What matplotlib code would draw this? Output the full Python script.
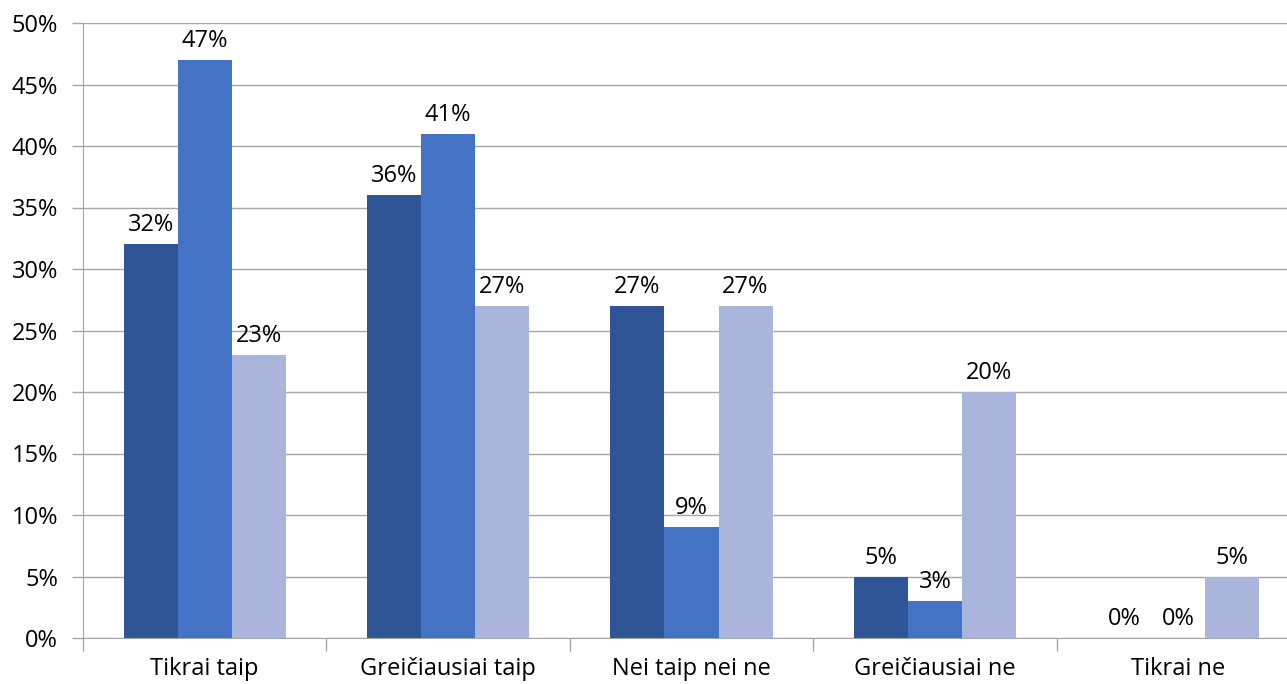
import numpy as np
import matplotlib.pyplot as plt
from matplotlib.ticker import FixedLocator, NullFormatter

categories = ["Tikrai taip", "Greičiausiai taip", "Nei taip nei ne", "Greičiausiai ne", "Tikrai ne"]
series_a = [32, 36, 27, 5, 0]
series_b = [47, 41, 9, 3, 0]
series_c = [23, 27, 27, 20, 5]
colors = ["#2F5597", "#4472C4", "#A9B5DA"]

plt.rcParams['font.family'] = ['Open Sans', 'DejaVu Sans']
fsize = 17

fig = plt.figure(figsize=(12.87, 6.84), dpi=100)
# plot area runs a little past the right edge of the picture
ax = fig.add_axes([83/1287, 1 - 638/684, 1217/1287, (638 - 23)/684])

x = np.arange(len(categories)) + 0.5
w = 0.222
for k, (vals, c) in enumerate(zip([series_a, series_b, series_c], colors)):
    bars = ax.bar(x + (k - 1) * w, vals, w, color=c, zorder=3)
    for b, v in zip(bars, vals):
        ax.annotate("%d%%" % v, (b.get_x() + b.get_width() / 2, v),
                    xytext=(0, 5), textcoords="offset points",
                    ha="center", va="bottom", fontsize=fsize, zorder=4)

ax.set_xlim(0, 5)
ax.set_ylim(0, 50)
ax.set_yticks(range(0, 51, 5))
ax.set_yticklabels(["%d%%" % t for t in range(0, 51, 5)], fontsize=fsize)
ax.yaxis.grid(True, color="#A6A6A6", lw=1, zorder=0)
ax.tick_params(axis="y", length=8, color="#A6A6A6", width=1, pad=10)

ax.xaxis.set_major_locator(FixedLocator(np.arange(0, 6)))
ax.xaxis.set_major_formatter(NullFormatter())
ax.xaxis.set_minor_locator(FixedLocator(x))
ax.set_xticklabels(categories, minor=True, fontsize=fsize)
ax.tick_params(axis="x", which="major", length=9, color="#A6A6A6", width=1)
ax.tick_params(axis="x", which="minor", length=0, pad=14)

for s in ["top", "right"]:
    ax.spines[s].set_visible(False)
for s in ["left", "bottom"]:
    ax.spines[s].set_color("#A6A6A6")

fig.savefig("out.png", dpi=100)
